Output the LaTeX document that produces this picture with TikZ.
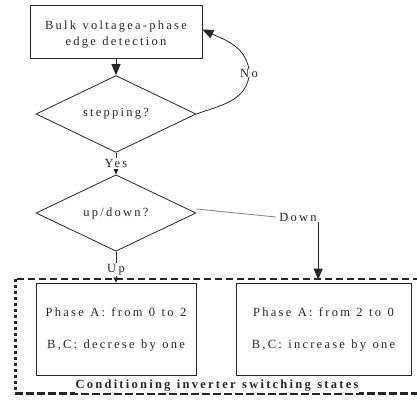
\documentclass[tikz,border=0pt]{standalone}
\usepackage{fontspec}
\setmainfont{Liberation Serif}
\usetikzlibrary{shapes.geometric,arrows.meta}
\definecolor{ink}{gray}{0.15}
\definecolor{lightink}{gray}{0.5}
\newfontfamily\spaced[LetterSpace=18,WordSpace=1.2]{Liberation Serif}
\tikzset{
  every node/.style={font=\fontsize{12.5}{14}\spaced, text=ink},
  boxnode/.style={draw=ink, line width=0.8pt, rectangle, inner sep=0pt, align=center},
  dia/.style={draw=ink, line width=0.8pt, diamond, inner sep=0pt, minimum width=160pt, minimum height=61pt},
  lab/.style={fill=white, inner sep=1pt},
  conn/.style={draw=ink, line width=0.8pt},
  arr/.style={conn, -{Triangle[length=11pt,width=9pt]}},
  arrmid/.style={conn, -{Triangle[length=8pt,width=7pt]}},
  arrsmall/.style={conn, -{Triangle[length=5pt,width=5pt]}},
  frametop/.style={draw=ink, line width=2pt, dash pattern=on 7pt off 4pt},
  frameleft/.style={draw=ink, line width=3pt, dash pattern=on 3pt off 3pt},
  framebot/.style={draw=ink, line width=3pt, dash pattern=on 8pt off 3pt}
}
\begin{document}
\begin{tikzpicture}[x=1pt,y=-1pt]
\useasboundingbox (0,0) rectangle (417,400);
\node[boxnode, minimum width=172pt, minimum height=53pt] (top) at (116,31.5) {\rule{0pt}{15pt}Bulk voltagea-phase\\[2pt]edge detection};
\node[dia] (d1) at (116,114) {stepping?};
\node[dia] (d2) at (116,213) {up/down?};
\node[boxnode, minimum width=160pt, minimum height=92pt] (b1) at (116,329) {Phase A: from 0 to 2\\[18pt]B,C: decrese by one};
\node[boxnode, minimum width=175pt, minimum height=92pt] (b2) at (323.5,329) {Phase A: from 2 to 0\\[18pt]B,C: increase by one};
\node (down) at (298,217) {Down};
\node (no) at (249,73) {No};
\coordinate (fr1) at (420,279);
\coordinate (fr2) at (15,279);
\coordinate (fr3) at (15,393);
\coordinate (fr4) at (420,393);
\draw[frametop] (fr1) -- (fr2);
\draw[frameleft] (fr2) -- (fr3);
\draw[framebot] (fr3) -- (fr4);
\node[font=\fontsize{12.5}{14}\spaced\bfseries, fill=white, inner sep=1pt] (cond) at (217,386) {Conditioning inverter switching states};
\draw[arr] (top.south) -- (d1.north);
\draw[arrmid] (d1.south) -- node[lab] (yes) {Yes} (d2.north);
\draw[conn] (d1.east) to[out=20,in=-100] ([yshift=4pt]no.south);
\draw[arr] ([yshift=-4pt]no.north) to[out=100,in=-25] ([yshift=2pt]top.east);
\draw[arrsmall] (d2.south) -- node[lab, pos=0.58] (up) {Up} (b1.north);
\draw[conn, draw=lightink] ([yshift=4pt]d2.east) -- (down.west);
\draw[arr] ([xshift=-2pt,yshift=3pt]down.south east) -- ([xshift=-2pt,yshift=3pt]down.south east |- b2.north);
\end{tikzpicture}
\end{document}
